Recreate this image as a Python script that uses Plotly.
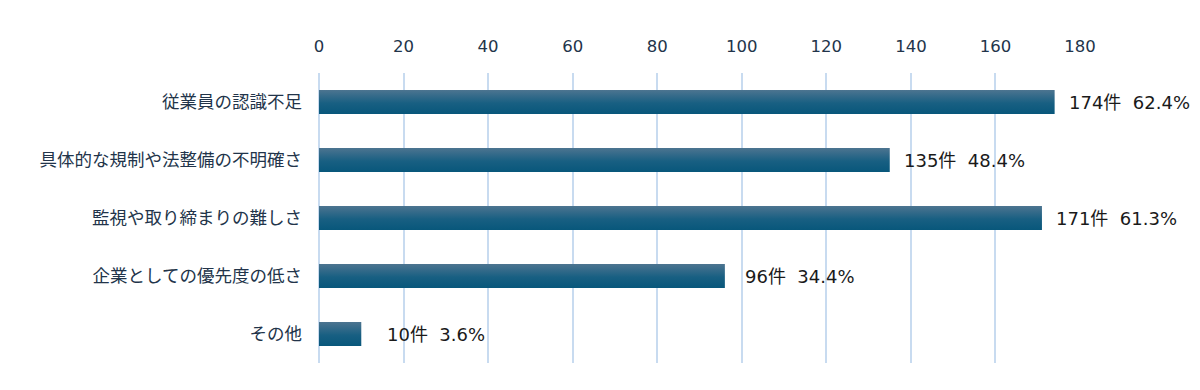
import plotly.graph_objects as go

categories = ["従業員の認識不足", "具体的な規制や法整備の不明確さ", "監視や取り締まりの難しさ",
              "企業としての優先度の低さ", "その他"]
counts = [174, 135, 171, 96, 10]
percents = [62.4, 48.4, 61.3, 34.4, 3.6]
tick_values = [0, 20, 40, 60, 80, 100, 120, 140, 160, 180]

FONT = "DejaVu Sans, Noto Sans CJK JP, sans-serif"
CJK = "Noto Sans CJK JP, sans-serif"
half = 0.205
fig = go.Figure()
for i, (c, v) in enumerate(zip(categories, counts)):
    fig.add_trace(go.Scatter(
        x=[0, v, v, 0, 0], y=[i - half, i - half, i + half, i + half, i - half],
        mode="lines", fill="toself", line=dict(width=0),
        fillgradient=dict(type="vertical",
                          colorscale=[[0, "#08577b"], [0.45, "#185f82"], [1, "#4c7490"]]),
        hoverinfo="skip", showlegend=False))
    fig.add_annotation(x=v, y=i, text=f"{v}件  {percents[i]}%", showarrow=False,
                       xanchor="center", xshift=75,
                       font=dict(family=FONT, size=18, color="#1a1a1a"))

fig.update_layout(
    width=1200, height=390, margin=dict(l=319, r=120, t=73, b=27),
    plot_bgcolor="white", paper_bgcolor="white",
    xaxis=dict(range=[0, 180], side="top", tickvals=tick_values, showgrid=True,
               gridcolor="#c8dbf0", gridwidth=2, zeroline=True, zerolinecolor="#c8dbf0",
               zerolinewidth=2, showline=False, ticklabelstandoff=17,
               tickfont=dict(family=FONT, size=16.5, color="#22344a")),
    yaxis=dict(range=[4.5, -0.5], tickvals=list(range(len(categories))), ticktext=categories,
               showgrid=False, zeroline=False, showline=False, ticklabelstandoff=16,
               tickfont=dict(family=CJK, size=17.5, color="#22344a")),
)
fig.write_html("out.html", config={"displayModeBar": False},
               post_script="document.body.style.margin='0px';")
